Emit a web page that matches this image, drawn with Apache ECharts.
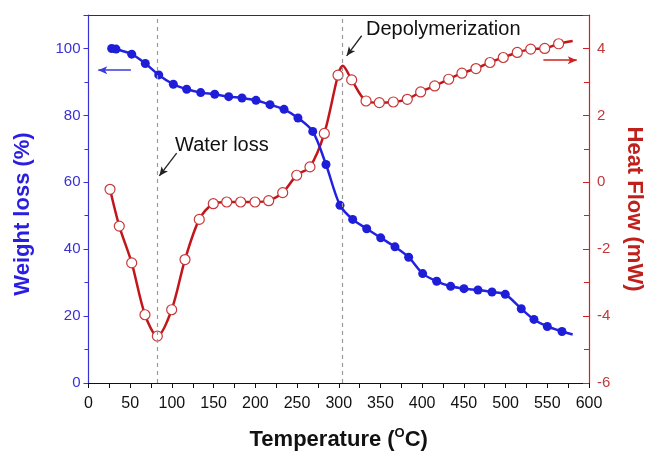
<!DOCTYPE html>
<html>
<head>
<meta charset="utf-8">
<script src="https://cdn.jsdelivr.net/npm/echarts@6/dist/echarts.min.js"></script>
<style>
  html, body { margin: 0; padding: 0; background: #fff; }
  #chart { width: 649px; height: 456px; }
</style>
</head>
<body>
<div id="chart"></div>
<script>
// weight loss (TGA), [temperature, %]
var weightLoss = [
  [27.8, 100.0], [33.0, 99.8], [51.8, 98.3], [68.1, 95.5], [84.2, 92.1],
  [101.7, 89.3], [117.7, 87.8], [134.5, 86.8], [151.3, 86.3], [168.1, 85.6],
  [184.0, 85.2], [200.8, 84.5], [217.6, 83.2], [234.4, 81.8], [251.1, 79.2],
  [268.8, 75.2], [284.7, 65.3], [301.5, 53.1], [316.7, 48.9], [333.5, 46.1],
  [350.3, 43.4], [367.4, 40.7], [383.8, 37.6], [400.6, 32.7], [417.4, 30.4],
  [434.2, 28.9], [450.1, 28.2], [466.9, 27.8], [483.7, 27.2], [499.6, 26.5],
  [518.8, 22.2], [534.0, 19.0], [550.0, 16.9], [567.6, 15.4]
];
var weightEnd = [580.4, 14.5];

// heat flow (DSC), [temperature, mW]
var heatFlow = [
  [25.8, -0.21], [36.9, -1.31], [51.8, -2.41], [67.7, -3.96], [82.5, -4.60],
  [99.7, -3.81], [115.7, -2.31], [132.8, -1.11], [149.6, -0.64], [165.7, -0.59],
  [182.4, -0.59], [199.6, -0.59], [216.0, -0.55], [232.8, -0.31], [249.6, 0.21],
  [265.5, 0.46], [282.7, 1.46], [299.1, 3.20], [315.5, 3.06], [332.7, 2.43],
  [348.6, 2.38], [365.4, 2.40], [382.2, 2.48], [398.2, 2.70], [415.0, 2.88],
  [431.8, 3.08], [447.7, 3.26], [464.5, 3.40], [481.3, 3.58], [497.2, 3.73],
  [514.0, 3.88], [530.1, 3.98], [546.9, 4.00], [563.6, 4.14]
];
var heatPeak = [304.7, 3.48];
var heatEnd = [580.4, 4.22];

var eventTemps = [82.5, 304.7];

var blue = '#2222e0';
var red = '#c0161c';

function withHidden(points, extra) {
  var out = points.map(function (p) { return p; });
  extra.forEach(function (p) {
    out.push({ value: p, symbol: 'none' });
  });
  out.sort(function (a, b) {
    var xa = Array.isArray(a) ? a[0] : a.value[0];
    var xb = Array.isArray(b) ? b[0] : b.value[0];
    return xa - xb;
  });
  return out;
}

var chart = echarts.init(document.getElementById('chart'));

var font = 'Liberation Sans, Arial, sans-serif';

var option = {
  animation: false,
  textStyle: { fontFamily: font },
  grid: { left: 88.5, right: 60, top: 15, bottom: 73, outerBoundsMode: 'none', containLabel: false },
  xAxis: [{
    type: 'value',
    min: 0, max: 600, interval: 50,
    name: '{a|Temperature (}{s|O}{a|C)}',
    nameLocation: 'middle',
    nameGap: 44,
    nameTextStyle: {
      rich: {
        a: { fontSize: 22, fontWeight: 'bold', color: '#111', fontFamily: font, lineHeight: 26 },
        s: { fontSize: 13, fontWeight: 'bold', color: '#111', fontFamily: font, verticalAlign: 'top', lineHeight: 26, padding: [0, 0, 12, 0] }
      }
    },
    axisLine: { onZero: false, lineStyle: { color: '#111', width: 1.2 } },
    axisTick: { inside: false, length: 5, lineStyle: { color: '#111' } },
    minorTick: { show: true, splitNumber: 2, length: 5, lineStyle: { color: '#111' } },
    splitLine: { show: false },
    axisLabel: { fontSize: 16, color: '#111', margin: 13 }
  }, {
    type: 'value',
    position: 'top',
    min: 0, max: 600,
    axisLine: { show: true, onZero: false, lineStyle: { color: '#333', width: 1.2 } },
    axisTick: { show: false },
    axisLabel: { show: false },
    splitLine: { show: false }
  }],
  yAxis: [{
    type: 'value',
    position: 'left',
    min: 0, max: 110, interval: 20,
    name: 'Weight loss (%)',
    nameLocation: 'middle',
    nameGap: 55,
    nameTextStyle: { fontSize: 22, fontWeight: 'bold', color: '#2a1ee0', padding: [0, 30, 0, 0] },
    axisLine: { show: true, onZero: false, lineStyle: { color: '#3a32d0', width: 1.2 } },
    axisTick: { inside: false, length: 5, lineStyle: { color: '#3a32d0' } },
    minorTick: { show: true, splitNumber: 2, length: 4, lineStyle: { color: '#3a32d0' } },
    splitLine: { show: false },
    axisLabel: {
      fontSize: 15, color: '#3b2fd6', margin: 8,
      formatter: function (v) { return v > 100 ? '' : String(v); }
    }
  }, {
    type: 'value',
    position: 'right',
    min: -6, max: 5, interval: 2,
    name: 'Heat Flow (mW)',
    nameLocation: 'middle',
    nameRotate: -90,
    nameGap: 34,
    nameTextStyle: { fontSize: 22, fontWeight: 'bold', color: '#c0201c', padding: [0, 0, 0, 20] },
    axisLine: { show: true, onZero: false, lineStyle: { color: '#d42020', width: 1.2 } },
    axisTick: { inside: true, length: 6, lineStyle: { color: '#d42020' } },
    minorTick: { show: true, splitNumber: 2, length: 5, lineStyle: { color: '#d42020' } },
    splitLine: { show: false },
    axisLabel: {
      fontSize: 15, color: '#c0393b', margin: 8,
      formatter: function (v) { return v > 4 ? '' : String(v); }
    }
  }],
  series: [{
    name: 'Weight loss',
    type: 'line',
    xAxisIndex: 0,
    yAxisIndex: 0,
    smooth: 0.3,
    data: withHidden(weightLoss, [weightEnd]),
    symbol: 'circle',
    symbolSize: 9,
    itemStyle: { color: '#1e1ed8' },
    lineStyle: { color: blue, width: 2.5 },
    z: 3,
    markLine: {
      silent: true,
      symbol: 'none',
      label: { show: false },
      data: [
        { xAxis: eventTemps[0], lineStyle: { color: '#999', type: [4, 4], width: 1.2 } },
        { xAxis: eventTemps[1], lineStyle: { color: '#999', type: [4, 4], width: 1.2 } },
        [
          { coord: [50.8, 93.5], symbol: 'none', lineStyle: { color: '#3a3ae0', width: 1.5, type: 'solid' } },
          { coord: [11.7, 93.5], symbol: 'arrow', symbolSize: [6, 9] }
        ],
        [
          { coord: [105.7, 68.7], symbol: 'none', lineStyle: { color: '#222', width: 1.3, type: 'solid' } },
          { coord: [84.9, 61.9], symbol: 'arrow', symbolSize: [6, 9] }
        ],
        [
          { coord: [327.5, 103.8], symbol: 'none', lineStyle: { color: '#222', width: 1.3, type: 'solid' } },
          { coord: [309.5, 97.8], symbol: 'arrow', symbolSize: [6, 9] }
        ]
      ]
    }
  }, {
    name: 'Heat Flow',
    type: 'line',
    xAxisIndex: 0,
    yAxisIndex: 1,
    smooth: 0.3,
    data: withHidden(heatFlow, [heatPeak, heatEnd]),
    symbol: 'circle',
    symbolSize: 10,
    itemStyle: { color: '#fff', borderColor: '#c83838', borderWidth: 1.2 },
    lineStyle: { color: red, width: 2.5 },
    z: 2,
    markLine: {
      silent: true,
      symbol: 'none',
      label: { show: false },
      data: [
        [
          { coord: [545.3, 3.65], symbol: 'none', lineStyle: { color: '#d02020', width: 1.5, type: 'solid' } },
          { coord: [585.3, 3.65], symbol: 'arrow', symbolSize: [6, 9] }
        ]
      ]
    }
  }],
  graphic: [
    { type: 'text', left: 175, top: 135, style: { text: 'Water loss', fontSize: 20, fontFamily: font, fill: '#111' } },
    { type: 'text', left: 366, top: 19, style: { text: 'Depolymerization', fontSize: 20, fontFamily: font, fill: '#111' } }
  ]
};

chart.setOption(option);
</script>
</body>
</html>
